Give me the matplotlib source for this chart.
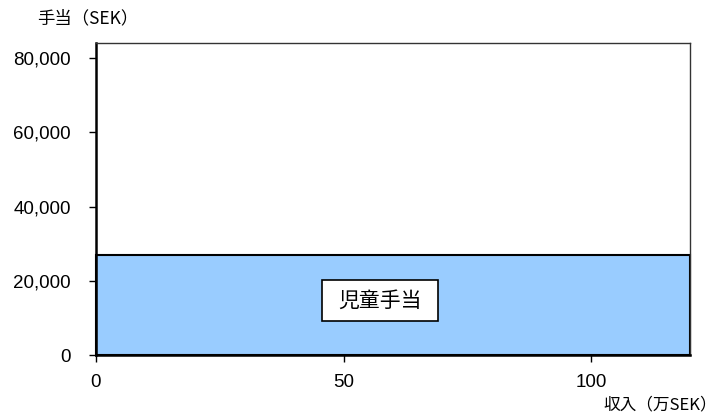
import matplotlib.pyplot as plt
from matplotlib.patches import Rectangle
from matplotlib.ticker import FuncFormatter

plt.rcParams["font.family"] = ["Liberation Sans", "Noto Sans CJK JP", "DejaVu Sans"]

# 児童手当：収入に関係なく一定額
income_range = [0, 120]        # 万SEK
allowance = 27000              # SEK
label_pos = (57.3, 14700)
label_box = (23.4, 11000)      # 注記枠の幅・高さ（データ座標）

x_ticks = [0, 50, 100]
y_ticks = [0, 20000, 40000, 60000, 80000]

fig = plt.figure(figsize=(7.18, 4.18), dpi=100)
ax = fig.add_axes([95.7 / 718, 1 - 355 / 418, (690.5 - 95.7) / 718, (355 - 43.3) / 418])

ax.add_patch(Rectangle((income_range[0], 0), income_range[1] - income_range[0], allowance,
                       facecolor="#99ccff", edgecolor="black", linewidth=1.5, zorder=2,
                       clip_on=False))

ax.set_xlim(0, 120)
ax.set_ylim(0, 84000)
ax.set_xticks(x_ticks)
ax.set_yticks(y_ticks)
ax.yaxis.set_major_formatter(FuncFormatter(lambda v, _: f"{int(v):,}"))
ax.tick_params(axis="both", direction="out", length=5, width=1, labelsize=13.5, color="black")
ax.tick_params(axis="x", pad=9)
ax.tick_params(axis="y", pad=13)

for side in ("left", "bottom"):
    ax.spines[side].set_linewidth(1.8)
for side in ("top", "right"):
    ax.spines[side].set_linewidth(1.0)
    ax.spines[side].set_color("#333333")

# 注記枠
bw, bh = label_box
ax.add_patch(Rectangle((label_pos[0] - bw / 2, label_pos[1] - bh / 2), bw, bh,
                       facecolor="white", edgecolor="black", linewidth=1.2, zorder=3))
ax.text(label_pos[0], label_pos[1], "児童手当", ha="center", va="center", fontsize=15,
        family=["Noto Sans CJK JP"], zorder=4)

fig.text(37 / 718, 1 - 18 / 418, "手当（SEK）", ha="left", va="center", fontsize=12.5,
         family=["Noto Sans CJK JP"])
fig.text(717 / 718, 1 - 405 / 418, "収入（万SEK）", ha="right", va="center", fontsize=12,
         family=["Noto Sans CJK JP"])

fig.savefig("out.png", dpi=100)
